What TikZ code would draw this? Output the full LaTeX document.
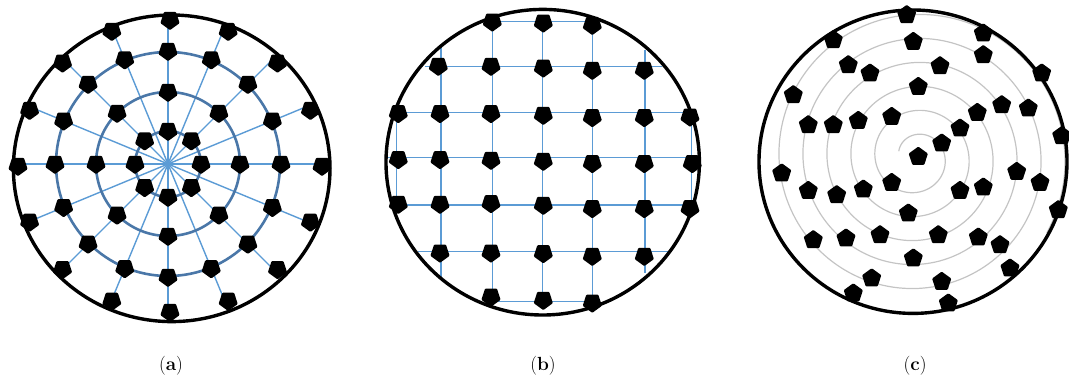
\documentclass[tikz,border=0pt]{standalone}
\usetikzlibrary{shapes.geometric}
\definecolor{spokeblue}{HTML}{5B9BD5}
\definecolor{ringblue}{HTML}{4A77A8}
\definecolor{spiralgray}{HTML}{C4C4C4}
\begin{document}
\begin{tikzpicture}[x=1pt,y=-1pt,
  pent/.style={regular polygon, regular polygon sides=5, fill=black, draw=black,
    line width=2.6pt, line join=round,
    inner sep=0pt, minimum size=17pt, shape border rotate=180},
  pentup/.style={pent, shape border rotate=0},
  thinline/.style={draw=spokeblue, line width=1.4pt},
  ringline/.style={draw=ringblue, line width=2.6pt},
  rimline/.style={draw=black, line width=3.4pt},
  spiralline/.style={draw=spiralgray, line width=1.2pt},
  caption/.style={font=\fontsize{19}{22}\selectfont, inner sep=0pt}]
\useasboundingbox (0,0) rectangle (1069,386);

% ---------------- (a) polar grid ----------------
\coordinate (ca) at (168,164);
\begin{scope}
  \clip (171.7,168.3) ellipse [x radius=158.3pt, y radius=153.3pt];
  \foreach \k in {0,...,15}
    \draw[thinline] (ca) -- ++(\k*22.5:190);
\end{scope}
\foreach \r in {33,72,112}
  \draw[ringline] (ca) circle [radius=\r pt];
\draw[rimline] (171.7,168.3) ellipse [x radius=158.3pt, y radius=153.3pt];
\foreach \k in {0,...,7}{
  \node[pent] (a1-\k) at ({168+33*cos(\k*45)},{164+33*sin(\k*45)}) {};
  \node[pent] (a2-\k) at ({168+72*cos(\k*45)},{164+72*sin(\k*45)}) {};
}
\foreach \k in {0,...,15}{
  \node[pent] (a3-\k) at ({168+113*cos(\k*22.5)},{164+113*sin(\k*22.5)}) {};
  \node[pent] (a4-\k) at ({170+152*cos(\k*22.5)},{166+146*sin(\k*22.5)}) {};
}

% ---------------- (b) square grid ----------------
% horizontal lines
\draw[thinline] (492.3,21.7) -- (592.3,21.7);
\draw[thinline] (425,66.5) -- (662,66.5);
\draw[thinline] (396.7,112.7) -- (691.7,112.7);
\draw[thinline] (385,157.7) -- (700,157.7);
\draw[thinline] (396.7,205) -- (691.7,205);
\draw[thinline] (418,251.7) -- (668,251.7);
\draw[thinline] (492.3,301.7) -- (592.3,301.7);
% vertical lines
\draw[thinline] (396.7,112.7) -- (396.7,205);
\draw[thinline] (441,46.7) -- (441,276.7);
\draw[thinline] (492.3,21.7) -- (492.3,301.7);
\draw[thinline] (542.5,15) -- (542.5,301.7);
\draw[thinline] (592.3,21.7) -- (592.3,301.7);
\draw[thinline] (645,50) -- (645,273);
\draw[thinline] (691.7,112.7) -- (691.7,205);
\draw[rimline] (542.7,162.2) ellipse [x radius=156.7pt, y radius=152.8pt];
\foreach \x/\y [count=\i] in {
  492.3/21.7, 543.3/22.7, 592.3/25,
  438.3/66, 491/66, 543.3/67.7, 592.3/70, 644.3/70,
  398.3/113.3, 440/113.3, 491/113.3, 543.3/115, 592.3/117.3, 644.3/117.3, 690/116.7,
  398.3/159.3, 440/159.3, 491/160, 543.3/161, 592.3/163.3, 644.3/163.3, 692.3/163.3,
  398.3/204, 440/204, 491/203.3, 543.3/205, 592.3/208.3, 644.3/208.3, 690/208.3,
  440/252.7, 491/252.7, 543.3/253.3, 592.3/256, 644.3/256,
  491/296.7, 543.3/300, 592.3/302.7}
  \node[pent] (b\i) at (\x,\y) {};

% ---------------- (c) spiral ----------------
\begin{scope}
  \clip (913,161.7) ellipse [x radius=154pt, y radius=151.7pt];
  \draw[spiralline] plot[domain=200:2190, samples=900]
    ({916+(5+\x/15)*cos(\x)},{157.5+(5+\x/15)*sin(\x)});
\end{scope}
\draw[rimline] (913,161.7) ellipse [x radius=154pt, y radius=151.7pt];
\foreach \x/\y [count=\i] in {
  906.7/15, 983.3/33.3, 833.3/40, 913.3/41.7, 983.3/55, 848.3/65, 940/66,
  870/73.3, 1041.7/73.3, 918.3/86.7, 793.3/95, 1001.7/105, 1028.3/108.3,
  977.3/112.7, 891.7/116.7, 858.3/120.7, 808.3/125, 833.3/125, 960/128.3,
  1061.7/136, 941.7/143.3, 918.3/156.7, 781.7/173.3, 1016.7/171.7, 891.7/182.7,
  1040/182.7, 808.3/190.7, 863.3/189.3, 960/190.7, 983.3/187.3, 836.7/195,
  1058.3/210, 908.3/213.3, 813.3/240, 846/238.3, 880/235, 938.3/235,
  978.3/237.3, 1000/245, 913.3/258.3, 1010/268.3, 871.7/278.3, 941.7/281.7,
  853.3/293.3, 948.3/303.3}
  \node[pentup] (c\i) at (\x,\y) {};

% ---------------- captions ----------------
\node[caption] (capa) at (171,366) {(\textbf{a})};
\node[caption] (capb) at (543,366) {(\textbf{b})};
\node[caption] (capc) at (915,366) {(\textbf{c})};
\end{tikzpicture}
\end{document}
